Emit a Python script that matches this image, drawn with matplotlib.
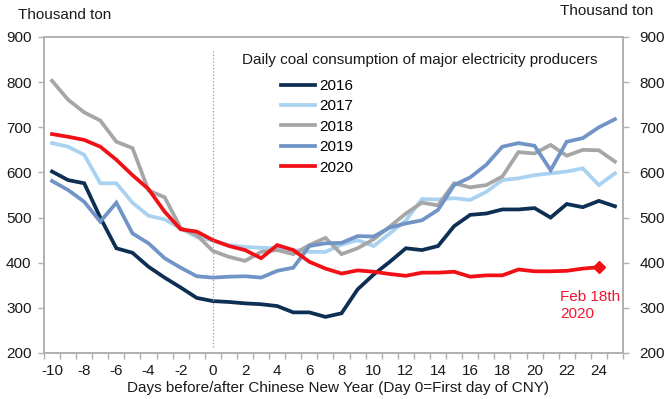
import numpy as np
import matplotlib.pyplot as plt

plt.rcParams['font.family'] = ['Liberation Sans', 'DejaVu Sans']
plt.rcParams['font.size'] = 11
plt.rcParams['axes.unicode_minus'] = False

# Дни относительно китайского Нового года
days = list(range(-10, 26))

coal_2016 = [602, 583, 576, 500, 432, 422, 391, 367, 345, 322, 315, 313, 310, 308, 304, 290, 290, 280,
             288, 341, 374, 402, 432, 428, 437, 481, 506, 509, 518, 518, 521, 500, 530, 523, 537, 525]
coal_2017 = [665, 657, 639, 576, 576, 533, 504, 496, 476, 457, 449, 439, 435, 433, 432, 428, 424, 424,
             440, 450, 437, 465, 494, 541, 540, 543, 539, 557, 583, 587, 594, 598, 602, 609, 572, 598]
coal_2018 = [803, 761, 733, 715, 668, 654, 560, 545, 477, 461, 426, 413, 404, 424, 428, 419, 439, 455,
             419, 432, 452, 480, 509, 533, 527, 576, 567, 572, 591, 645, 642, 661, 637, 650, 649, 624]
coal_2019 = [581, 561, 535, 491, 533, 465, 443, 410, 389, 370, 367, 369, 370, 367, 382, 389, 437, 443,
             444, 459, 458, 478, 487, 494, 517, 572, 589, 617, 657, 665, 659, 605, 668, 676, 700, 718]
coal_2020 = [685, 679, 672, 657, 628, 594, 563, 513, 474, 469, 450, 437, 428, 410, 439, 428, 402, 387,
             376, 383, 380, 375, 371, 378, 378, 380, 369, 372, 372, 385, 381, 381, 382, 387, 390, np.nan]

series = [
    ('2016', coal_2016, '#0d2f53'),
    ('2017', coal_2017, '#a9d1f0'),
    ('2018', coal_2018, '#a6a6a6'),
    ('2019', coal_2019, '#7094c6'),
    ('2020', coal_2020, '#f01016'),
]

fig = plt.figure(figsize=(6.71, 3.99), dpi=100)
ax = fig.add_axes([44 / 671, 1 - 353 / 399, (623 - 44) / 671, (353 - 37) / 399])

for name, vals, color in series:
    ax.plot(days, vals, color=color, lw=2.7, label=name, solid_joinstyle='miter')

# Последняя точка 2020
last = max(i for i, v in enumerate(coal_2020) if not np.isnan(v))
ax.plot(days[last], coal_2020[last], marker='D', ms=6, color='#f01016')

# Вертикальная линия в день 0
ax.axvline(0, ymin=0.02, ymax=0.96, color='#9a9a9a', lw=0.9, ls=':')

ax.set_xlim(-10.5, 25.5)
ax.set_ylim(200, 900)
ax.set_yticks(range(200, 901, 100))
ax.set_xticks(range(-10, 25, 2))
ax.set_xticks(np.arange(-10.5, 25.6, 1), minor=True)

spine_color = '#b0b0b0'
for s in ax.spines.values():
    s.set_color(spine_color)
    s.set_linewidth(1.2)

ax.tick_params(axis='x', which='major', length=0, pad=8, labelsize=11, colors='#1a1a1a')
ax.tick_params(axis='x', which='minor', length=4, color=spine_color, width=1)
ax.tick_params(axis='y', length=4, color=spine_color, width=1, pad=5, labelsize=11, labelcolor='#1a1a1a')

ax2 = ax.twinx()
ax2.set_ylim(200, 900)
ax2.set_yticks(range(200, 901, 100))
for s in ax2.spines.values():
    s.set_color(spine_color)
    s.set_linewidth(1.2)
ax2.tick_params(axis='y', length=4, color=spine_color, width=1, pad=8, labelsize=11, labelcolor='#1a1a1a')

# Подписи
fig.text(18 / 671, 1 - 15 / 399, 'Thousand ton', ha='left', va='center', color='#1a1a1a')
fig.text(653 / 671, 1 - 11 / 399, 'Thousand ton', ha='right', va='center', color='#1a1a1a')
fig.text(338 / 671, 1 - 388 / 399, 'Days before/after Chinese New Year (Day 0=First day of CNY)',
         ha='center', va='center', color='#1a1a1a')

fig.text(242 / 671, 1 - 60 / 399, 'Daily coal consumption of major electricity producers',
         ha='left', va='center', color='#1a1a1a')
ax.legend(loc='upper left', bbox_to_anchor=(281 / 671, 1 - 79 / 399), bbox_transform=fig.transFigure,
          frameon=False, borderpad=0, borderaxespad=0, handlelength=2.2, handletextpad=0.33,
          labelspacing=0.42, fontsize=11)

ax.text(21.6, 305, 'Feb 18th\n2020', color='#f01530', ha='left', va='center', linespacing=1.3)

plt.savefig('out.png', dpi=100)
